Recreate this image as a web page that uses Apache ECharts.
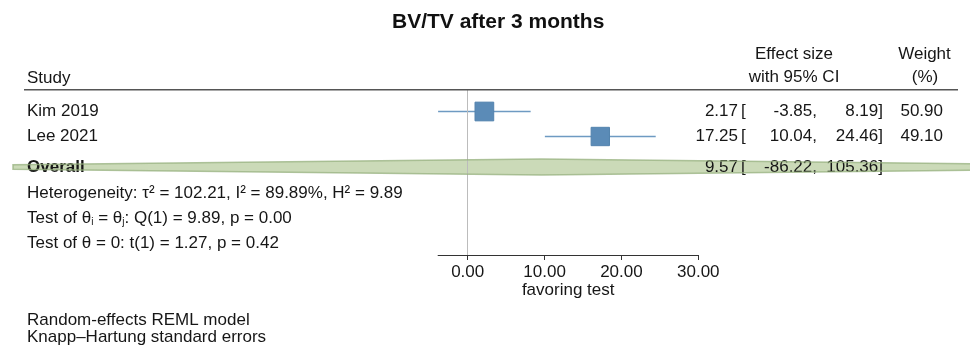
<!DOCTYPE html>
<html>
<head>
<meta charset="utf-8">
<script src="https://cdn.jsdelivr.net/npm/echarts@6/dist/echarts.min.js"></script>
<style>
html,body{margin:0;padding:0;background:#fff;}
#chart{width:970px;height:345px;}
</style>
</head>
<body>
<div id="chart"></div>
<script>
// ---- data ----
const studies = ['Kim 2019', 'Lee 2021'];
const effect = [2.17, 17.25];
const lower = [-3.85, 10.04];
const upper = [8.19, 24.46];
const weight = [50.90, 49.10];
const overallLabel = 'Overall';
const overallEffect = 9.57;
const overallLower = -86.22;
const overallUpper = 105.36;
const xTicks = [0, 10, 20, 30];
const axisMax = 30;
const titleText = 'BV/TV after 3 months';
const axisTitle = 'favoring test';
const statLines = [
  'Heterogeneity: τ² = 102.21, I² = 89.89%, H² = 9.89',
  'Test of θ{s|i} = θ{s|j}: Q(1) = 9.89, p = 0.00',
  'Test of θ = 0: t(1) = 1.27, p = 0.42'
];
const footLines = ['Random-effects REML model', 'Knapp–Hartung standard errors'];

// ---- layout (not data) ----
const FONT = '"Liberation Sans", Arial, Helvetica, sans-serif';
const FS = 17;
const TXT = '#161616';
const rowStudy = [1, 2];
const rowOverall = 3.22;
const colLabel = 27, colEst = 738, colBr = 741, colLo = 817, colHi = 883, colW = 943;

const chart = echarts.init(document.getElementById('chart'), null, {renderer: 'canvas'});

function txt(text, x, y, align, bold) {
  return {
    type: 'text',
    style: {
      text: text, x: x, y: y,
      align: align, verticalAlign: 'middle',
      textAlign: align, textVerticalAlign: 'middle',
      fill: TXT, fontSize: FS, fontFamily: FONT, fontWeight: bold ? 'bold' : 'normal'
    }
  };
}

const studyData = studies.map((s, i) => [effect[i], lower[i], upper[i], weight[i], rowStudy[i], i]);
const overallData = [[overallEffect, overallLower, overallUpper, rowOverall]];

function diamondPoints(api) {
  const row = api.value(3);
  const c = api.coord([api.value(0), row]);
  const L = api.coord([api.value(1), row]);
  const R = api.coord([api.value(2), row]);
  const h = 8;
  const xb = 13, xr = 975;
  function halfAt(x) {
    if (x <= c[0]) return h * (x - L[0]) / (c[0] - L[0]);
    return h * (R[0] - x) / (R[0] - c[0]);
  }
  const pts = [];
  if (L[0] < xb) { pts.push([xb, c[1] + halfAt(xb)]); pts.push([xb, c[1] - halfAt(xb)]); } else { pts.push([L[0], c[1]]); }
  pts.push([c[0], c[1] - h]);
  if (R[0] > xr) { pts.push([xr, c[1] - halfAt(xr)]); pts.push([xr, c[1] + halfAt(xr)]); } else { pts.push([R[0], c[1]]); }
  pts.push([c[0], c[1] + h]);
  return pts;
}

const option = {
  animation: false,
  backgroundColor: '#fff',
  textStyle: {fontFamily: FONT},
  title: {
    text: titleText,
    left: 392, top: 11.5, padding: 0,
    textStyle: {fontSize: 21, fontWeight: 'bold', color: '#111', fontFamily: FONT}
  },
  grid: {left: 438.1, top: 90, width: 260.2, height: 165, containLabel: false, outerBoundsMode: 'none'},
  xAxis: {
    type: 'value',
    min: Math.min(...lower),
    max: axisMax,
    splitLine: {show: false},
    axisLine: {show: true, lineStyle: {color: '#333', width: 1}},
    axisTick: {show: true, customValues: xTicks, length: 5, lineStyle: {color: '#333', width: 1}},
    axisLabel: {customValues: xTicks, formatter: v => Number(v).toFixed(2), fontSize: FS, color: TXT, margin: 9, fontFamily: FONT},
    name: axisTitle,
    nameLocation: 'middle',
    nameGap: 27,
    nameTextStyle: {fontSize: FS, color: TXT, fontFamily: FONT}
  },
  yAxis: {
    type: 'value', inverse: true, min: 0.14, max: 6.74, show: false
  },
  series: [
    {
      type: 'custom',
      name: 'table',
      coordinateSystem: 'cartesian2d',
      clip: false,
      z: 1,
      silent: true,
      data: studyData,
      encode: {x: 0, y: 4},
      renderItem: function (params, api) {
        const i = api.value(5);
        const y = api.coord([0, api.value(4)])[1];
        return {
          type: 'group',
          children: [
            txt(studies[i], colLabel, y, 'left'),
            txt(effect[i].toFixed(2), colEst, y, 'right'),
            txt('[', colBr, y, 'left'),
            txt(lower[i].toFixed(2) + ',', colLo, y, 'right'),
            txt(upper[i].toFixed(2) + ']', colHi, y, 'right'),
            txt(weight[i].toFixed(2), colW, y, 'right')
          ]
        };
      }
    },
    {
      type: 'custom',
      name: 'overallFill',
      coordinateSystem: 'cartesian2d',
      clip: false,
      z: 2,
      silent: true,
      data: overallData,
      encode: {x: [0, 1, 2], y: 3},
      renderItem: function (params, api) {
        return {
          type: 'polygon',
          shape: {points: diamondPoints(api)},
          style: {fill: '#cbdab8', stroke: null}
        };
      }
    },
    {
      type: 'custom',
      name: 'overallText',
      coordinateSystem: 'cartesian2d',
      clip: false,
      z: 4,
      silent: true,
      data: overallData,
      encode: {x: 0, y: 3},
      renderItem: function (params, api) {
        const y = api.coord([0, api.value(3)])[1] + 0.5;
        return {
          type: 'group',
          children: [
            txt(overallLabel, colLabel, y, 'left', true),
            txt(overallEffect.toFixed(2), colEst, y, 'right'),
            txt('[', colBr, y, 'left'),
            txt(overallLower.toFixed(2) + ',', colLo, y, 'right'),
            txt(overallUpper.toFixed(2) + ']', colHi, y, 'right')
          ]
        };
      }
    },
    {
      type: 'custom',
      name: 'overallEdge',
      coordinateSystem: 'cartesian2d',
      clip: false,
      z: 5,
      silent: true,
      data: overallData,
      encode: {x: [0, 1, 2], y: 3},
      renderItem: function (params, api) {
        return {
          type: 'polygon',
          shape: {points: diamondPoints(api)},
          style: {fill: null, stroke: 'rgba(150,176,125,0.75)', lineWidth: 1.5}
        };
      }
    },
    {
      type: 'custom',
      name: 'studies',
      coordinateSystem: 'cartesian2d',
      clip: false,
      z: 3,
      silent: true,
      data: studyData,
      encode: {x: [0, 1, 2], y: 4},
      renderItem: function (params, api) {
        const row = api.value(4);
        const c = api.coord([api.value(0), row]);
        const lo = api.coord([api.value(1), row]);
        const hi = api.coord([api.value(2), row]);
        const side = 2.62 * Math.sqrt(api.value(3));
        return {
          type: 'group',
          children: [
            {type: 'line', shape: {x1: lo[0], y1: lo[1], x2: hi[0], y2: hi[1]},
             style: {stroke: '#6e9ac2', lineWidth: 1.5}},
            {type: 'rect', shape: {x: c[0] - side / 2, y: c[1] - side / 2, width: side, height: side},
             style: {fill: '#5b8bb7', stroke: '#5282ad', lineWidth: 1}}
          ]
        };
      },
      markLine: {
        silent: true,
        symbol: ['none', 'none'],
        label: {show: false},
        lineStyle: {color: '#bcbcbc', width: 1, type: 'solid'},
        data: [{xAxis: 0}]
      }
    }
  ],
  graphic: [
    {type: 'line', shape: {x1: 24, y1: 89.7, x2: 958, y2: 89.7}, style: {stroke: '#555', lineWidth: 1.6}, z: 10},
    {type: 'text', left: 27, top: 70, style: {text: 'Study', fill: TXT, fontSize: FS, fontFamily: FONT}},
    {type: 'text', x: 794, y: 54.5, style: {text: 'Effect size', fill: TXT, fontSize: FS, fontFamily: FONT, align: 'center', verticalAlign: 'middle', textAlign: 'center', textVerticalAlign: 'middle'}},
    {type: 'text', x: 794, y: 77.5, style: {text: 'with 95% CI', fill: TXT, fontSize: FS, fontFamily: FONT, align: 'center', verticalAlign: 'middle', textAlign: 'center', textVerticalAlign: 'middle'}},
    {type: 'text', x: 924.5, y: 54.5, style: {text: 'Weight', fill: TXT, fontSize: FS, fontFamily: FONT, align: 'center', verticalAlign: 'middle', textAlign: 'center', textVerticalAlign: 'middle'}},
    {type: 'text', x: 925, y: 77.5, style: {text: '(%)', fill: TXT, fontSize: FS, fontFamily: FONT, align: 'center', verticalAlign: 'middle', textAlign: 'center', textVerticalAlign: 'middle'}},
    {type: 'text', x: 27, y: 193, style: {text: statLines[0], fill: TXT, fontSize: FS, fontFamily: FONT, verticalAlign: 'middle', textVerticalAlign: 'middle'}},
    {type: 'text', x: 27, y: 218, style: {text: statLines[1], fill: TXT, fontSize: FS, fontFamily: FONT, verticalAlign: 'middle', textVerticalAlign: 'middle',
      rich: {s: {fontSize: 10, fontFamily: FONT, fill: TXT, verticalAlign: 'bottom', padding: [9, 0, 0, 0]}}}},
    {type: 'text', x: 27, y: 243, style: {text: statLines[2], fill: TXT, fontSize: FS, fontFamily: FONT, verticalAlign: 'middle', textVerticalAlign: 'middle'}},
    {type: 'text', x: 27, y: 320, style: {text: footLines[0], fill: TXT, fontSize: FS, fontFamily: FONT, verticalAlign: 'middle', textVerticalAlign: 'middle'}},
    {type: 'text', x: 27, y: 337.5, style: {text: footLines[1], fill: TXT, fontSize: FS, fontFamily: FONT, verticalAlign: 'middle', textVerticalAlign: 'middle'}}
  ]
};
chart.setOption(option);
</script>
</body>
</html>
